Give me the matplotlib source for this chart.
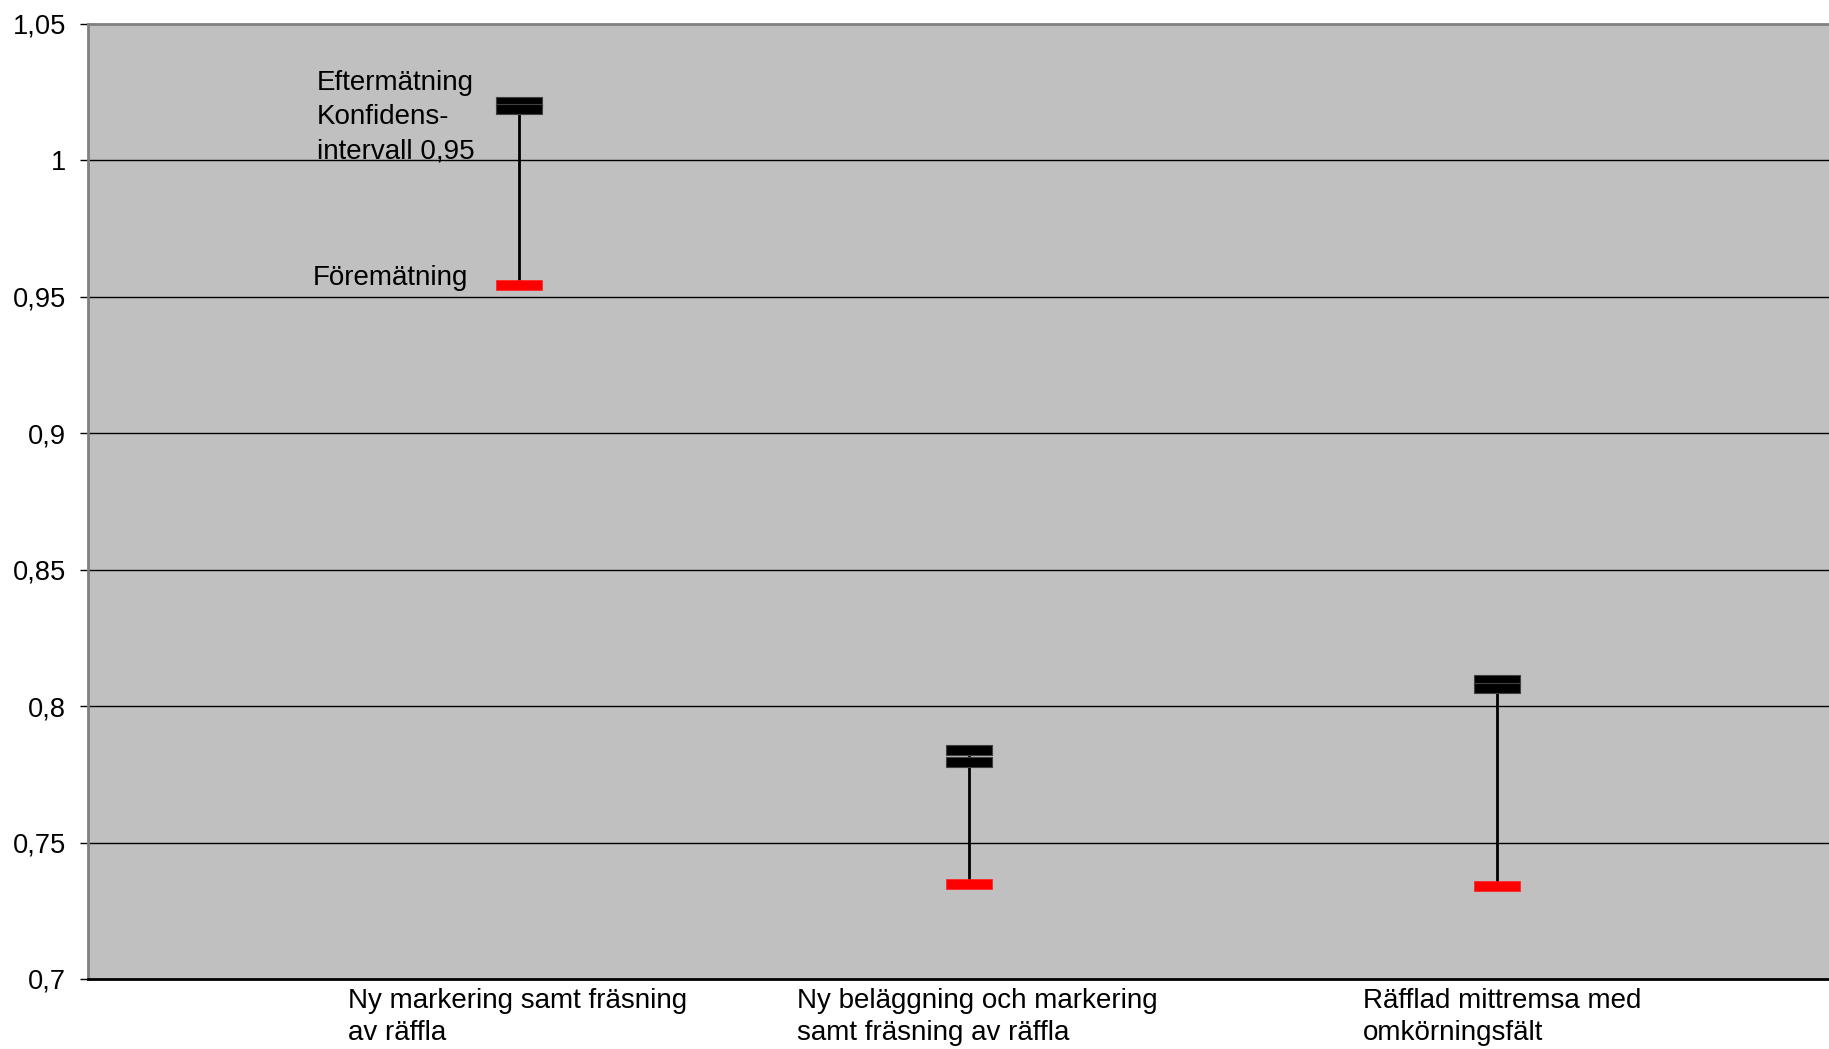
import matplotlib
matplotlib.use("Agg")
import matplotlib.pyplot as plt
from matplotlib.transforms import blended_transform_factory, offset_copy

plt.rcParams["font.family"] = ["Liberation Sans", "DejaVu Sans"]

# ---- data ----
categories = ["Ny markering samt fräsning\nav räffla",
              "Ny beläggning och markering\nsamt fräsning av räffla",
              "Räfflad mittremsa med\nomkörningsfält"]
x_pos = [0.98, 2.0, 3.2]
efter_high = [1.0215, 0.7838, 0.8095]
efter_low = [1.0190, 0.7794, 0.8065]
fore = [0.9542, 0.7347, 0.7340]
y_ticks = [0.7, 0.75, 0.8, 0.85, 0.9, 0.95, 1.0, 1.05]
y_ticklabels = ["0,7", "0,75", "0,8", "0,85", "0,9", "0,95", "1", "1,05"]
efter_label_lines = ["Eftermätning", "Konfidens-", "intervall 0,95"]
fore_label = "Föremätning"

# layout (label shifts in data units)
label_shift = [-0.005, 0.02, 0.012]

fig = plt.figure(figsize=(18.29, 10.49), dpi=100)
fig.patch.set_facecolor("white")
ax = fig.add_axes([88/1829, 1-979/1049, 1-88/1829 + 0.005, (979-24)/1049])
ax.set_facecolor("#C0C0C0")
ax.set_xlim(0, 3.975)
ax.set_ylim(0.7, 1.05)

# grid
for yv in y_ticks[1:-1]:
    ax.axhline(yv, color="black", lw=1.0, zorder=1)

rect = [(-2.25, -0.5), (2.25, -0.5), (2.25, 0.5), (-2.25, 0.5), (-2.25, -0.5)]
ms = 32.5

for xi, hi, lo, fv in zip(x_pos, efter_high, efter_low, fore):
    ax.plot([xi, xi], [fv, hi], color="black", lw=2, zorder=2)
ax.plot(x_pos, efter_high, ls="none", marker=rect, markersize=ms,
        markerfacecolor="black", markeredgecolor="#404040", markeredgewidth=0.8, zorder=3)
ax.plot(x_pos, efter_low, ls="none", marker=rect, markersize=ms,
        markerfacecolor="black", markeredgecolor="#404040", markeredgewidth=0.8, zorder=3)
ax.plot(x_pos, fore, ls="none", marker=rect, markersize=ms,
        markerfacecolor="#FF0000", markeredgecolor="#FF2020", markeredgewidth=0.5, zorder=3)

# annotations (each line a separate text, baselines 34.5 px apart)
for i, line in enumerate(efter_label_lines):
    tr = offset_copy(ax.transData, fig=fig, x=0, y=-34.5 * i, units="dots")
    ax.text(0.52, 1.0259, line, transform=tr, fontsize=20,
            ha="left", va="baseline", zorder=4)
ax.text(0.511, 0.9545, fore_label, fontsize=20, ha="left", va="baseline", zorder=4)

# axes styling
ax.set_yticks(y_ticks)
ax.set_yticklabels(y_ticklabels)
ax.set_xticks([])
ax.tick_params(axis="y", length=5.8, width=1, color="black", pad=10, labelsize=19.6)
for side in ["left", "top", "right"]:
    ax.spines[side].set_color("#808080")
    ax.spines[side].set_linewidth(2)
ax.spines["bottom"].set_color("black")
ax.spines["bottom"].set_linewidth(2)

trans = blended_transform_factory(ax.transData, ax.transAxes)
for xi, sh, lab in zip(x_pos, label_shift, categories):
    ax.text(xi + sh, -0.009, lab, transform=trans, ha="center", va="top",
            multialignment="left", fontsize=20, linespacing=1.33)

fig.savefig("out.png", dpi=100)
